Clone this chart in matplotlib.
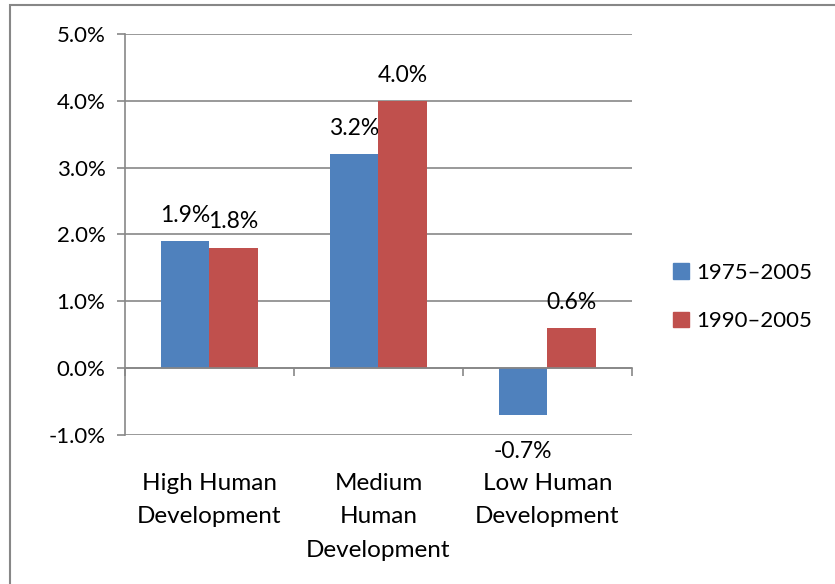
import numpy as np
import matplotlib
matplotlib.use("Agg")
import matplotlib.pyplot as plt
from matplotlib.patches import Rectangle, Patch

# data
categories = ["High Human\nDevelopment", "Medium\nHuman\nDevelopment", "Low Human\nDevelopment"]
series_names = ["1975\u20132005", "1990\u20132005"]
values_1975 = [1.9, 3.2, -0.7]
values_1990 = [1.8, 4.0, 0.6]
colors = ["#4F81BD", "#C0504D"]

plt.rcParams['font.family'] = ['Lato', 'DejaVu Sans']
fs = 16
grey = "#878787"

fig = plt.figure(figsize=(8.35, 5.84), dpi=100)
ax = fig.add_axes([125/835, 1 - 434.7/584, (632-125)/835, (434.7-34)/584])

x = np.arange(len(categories))
w = 1 / 3.5
for i, (vals, name) in enumerate(zip([values_1975, values_1990], series_names)):
    bars = ax.bar(x + (i - 0.5) * w, vals, width=w, color=colors[i], label=name, zorder=3)
    for b, v in zip(bars, vals):
        cx = b.get_x() + b.get_width() / 2
        if v >= 0:
            ax.annotate(f"{v:.1f}%", (cx, v), xytext=(0, 11), textcoords="offset points",
                        ha="center", va="bottom", fontsize=fs + 0.5)
        else:
            ax.annotate(f"{v:.1f}%", (cx, v), xytext=(0, -19), textcoords="offset points",
                        ha="center", va="top", fontsize=fs + 0.5)

ax.set_xlim(-0.5, len(categories) - 0.5)
ax.set_ylim(-1.0, 5.0)
yt = np.arange(-1, 6, 1)
ax.set_yticks(yt)
ax.set_yticklabels([f"{t:.1f}%" for t in yt], fontsize=fs)
ax.yaxis.grid(True, color=grey, lw=1.2, zorder=0)
ax.tick_params(axis="y", length=6, width=1.2, color=grey, pad=8)

# x axis sits at zero, ticks between categories
ax.spines["bottom"].set_position(("data", 0))
ax.set_xticks(np.arange(-0.5, len(categories), 1))
ax.set_xticklabels([])
ax.tick_params(axis="x", length=6, width=1.2, color=grey, direction="out")
for s in ["top", "right"]:
    ax.spines[s].set_visible(False)
for s in ["left", "bottom"]:
    ax.spines[s].set_color(grey)
    ax.spines[s].set_linewidth(1.2)
    ax.spines[s].set_zorder(4)

for xi, c in zip(x, categories):
    ax.annotate(c, (xi, 0), xycoords=("data", "axes fraction"), xytext=(0, -27.5),
                textcoords="offset points", ha="center", va="top", fontsize=17.5,
                linespacing=1.74)

handles = [Patch(color=c) for c in colors]
fig.legend(handles, series_names, loc="center left", bbox_to_anchor=(673/835, 1 - 297/584),
           frameon=False, fontsize=fs, handlelength=0.7, handleheight=0.7,
           handletextpad=0.35, labelspacing=1.3, borderpad=0, borderaxespad=0)

# chart area border
fig.patches.append(Rectangle((10/835, -0.1), 1.2, 1 - 5/584 + 0.1, transform=fig.transFigure,
                             fill=False, edgecolor=grey, lw=1.5))

fig.savefig("out.png", dpi=100)
